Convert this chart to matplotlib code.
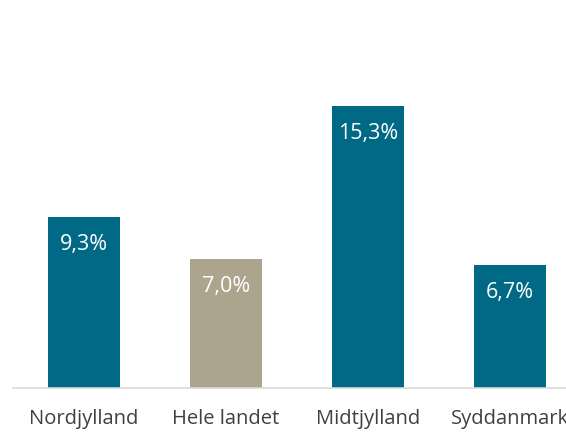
import matplotlib
matplotlib.use("Agg")
import matplotlib.pyplot as plt

categories = ["Nordjylland", "Hele landet", "Midtjylland", "Syddanmark"]
values = [9.3, 7.0, 15.3, 6.7]
labels = ["9,3%", "7,0%", "15,3%", "6,7%"]
colors = ["#006A86", "#ADA48E", "#006A86", "#006A86"]

plt.rcParams["font.family"] = ["Open Sans", "DejaVu Sans"]

W, H = 566, 433
fig = plt.figure(figsize=(W / 100, H / 100), dpi=100)
# axes runs past the right edge, so the last label is cut off as in the reference
ax = fig.add_axes([13 / W, 45 / H, 568 / W, 388 / H])

x = range(len(categories))
ax.bar(x, values, width=0.51, color=colors)
ax.set_xlim(-0.5, 3.5)
ax.set_ylim(0, 21.05)

for xi, v, lab in zip(x, values, labels):
    ax.text(xi, v - 1.5, lab, ha="center", va="center", color="white", fontsize=15.5)

ax.set_xticks(list(x))
ax.set_xticklabels(categories, fontsize=14.5, color="#404040")
ax.tick_params(axis="x", length=0, pad=15)
ax.set_yticks([])
for s in ["top", "right", "left"]:
    ax.spines[s].set_visible(False)
ax.spines["bottom"].set_color("#D9D9D9")
ax.spines["bottom"].set_linewidth(1.2)

fig.savefig("out.png", dpi=100)
